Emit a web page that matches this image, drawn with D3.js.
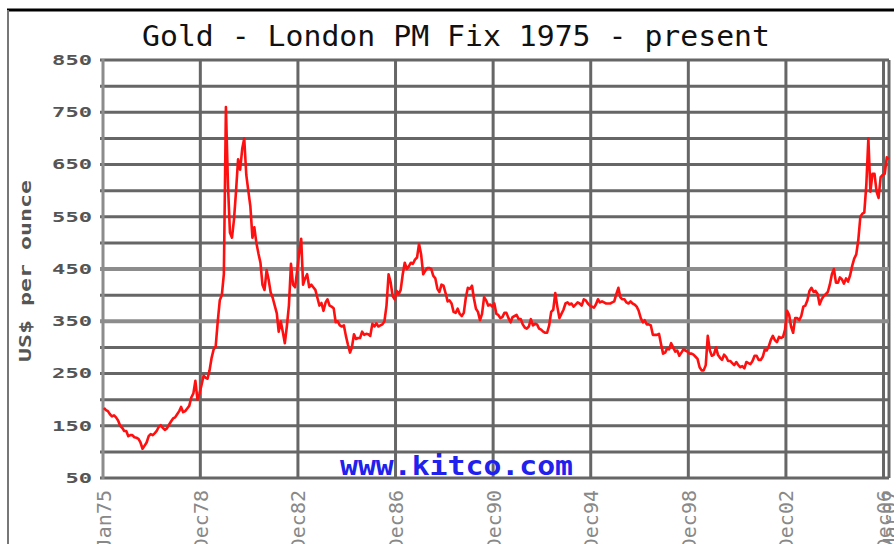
<!DOCTYPE html>
<html>
<head>
<meta charset="utf-8">
<title>Gold - London PM Fix</title>
<script src="https://cdn.jsdelivr.net/npm/d3@7"></script>
<style>
    body { margin: 0; background: #fff; }
    #chart { width: 894px; height: 544px; }
</style>
</head>
<body>
<div id="chart"></div>
<script>

// monthly PM fix, US$ per ounce (Jan 1975 onwards)
const prices1970s = [
    184, 180, 178, 172, 168, 170, 166, 160, 150, 146, 140, 140,   // 1975
    130, 132, 132, 128, 127, 125, 118, 106, 112, 118, 130, 134,   // 1976
    132, 136, 140, 148, 151, 146, 142, 145, 152, 158, 164, 166,   // 1977
    172, 178, 186, 176, 178, 183, 188, 204, 212, 236, 200, 212,   // 1978
    228, 246, 242, 240, 256, 280, 296, 302, 350, 390, 400, 440    // 1979
];
const prices1980s = [
    760, 610, 520, 510, 545, 600, 660, 640, 680, 700, 630, 600,   // 1980
    570, 510, 530, 500, 480, 462, 420, 410, 448, 430, 405, 395,   // 1981
    380, 365, 330, 350, 330, 308, 340, 380, 460, 420, 415, 445,   // 1982
    480, 508, 420, 432, 440, 415, 420, 415, 410, 395, 380, 385,   // 1983
    370, 386, 392, 380, 378, 375, 348, 350, 342, 340, 342, 322,   // 1984
    305, 290, 300, 325, 316, 318, 318, 330, 324, 326, 325, 322,   // 1985
    345, 340, 346, 340, 342, 344, 350, 380, 440, 425, 398, 392,   // 1986
    408, 402, 410, 440, 462, 450, 455, 462, 460, 468, 472, 498,   // 1987
    478, 440, 446, 452, 452, 450, 437, 432, 412, 406, 420, 418,   // 1988
    404, 388, 390, 384, 368, 366, 374, 364, 360, 366, 396, 414    // 1989
];
const prices1990s = [
    412, 418, 394, 374, 368, 352, 364, 396, 390, 380, 382, 378,   // 1990
    384, 364, 362, 356, 358, 366, 366, 356, 348, 358, 360, 362,   // 1991
    354, 354, 344, 338, 336, 340, 354, 342, 345, 344, 336, 334,   // 1992
    330, 328, 328, 342, 368, 372, 404, 378, 356, 364, 372, 384,   // 1993
    386, 382, 384, 378, 382, 386, 384, 380, 392, 390, 384, 380,   // 1994
    378, 376, 382, 392, 386, 388, 386, 384, 384, 384, 386, 388,   // 1995
    402, 414, 396, 392, 392, 386, 384, 388, 384, 382, 378, 370,   // 1996
    356, 348, 352, 344, 344, 342, 324, 324, 324, 326, 306, 288,   // 1997
    290, 298, 296, 308, 300, 292, 294, 284, 290, 296, 294, 292,   // 1998
    288, 288, 286, 282, 278, 262, 256, 256, 266, 322, 294, 284    // 1999
];
const prices2000s = [
    286, 300, 286, 280, 276, 286, 282, 274, 274, 270, 266, 272,   // 2000
    266, 262, 264, 260, 272, 270, 268, 274, 284, 284, 276, 276,   // 2001
    282, 296, 294, 302, 314, 322, 314, 310, 320, 318, 320, 334,   // 2002
    370, 362, 340, 328, 356, 356, 352, 360, 378, 380, 390, 408,   // 2003
    414, 406, 408, 402, 382, 392, 398, 402, 406, 420, 440, 450,   // 2004
    424, 424, 434, 430, 422, 432, 426, 438, 456, 470, 478, 505,   // 2005
    550, 556, 558, 612, 700, 598, 632, 632, 598, 586, 626, 630,   // 2006
    632, 664, 660                                                   // 2007
];

// axis ticks
const yTickValues = [50, 150, 250, 350, 450, 550, 650, 750, 850];
const xTickLabels = ["Jan75", "Dec78", "Dec82", "Dec86", "Dec90", "Dec94", "Dec98", "Dec02", "Dec06", "Mar07"];
const xTickDates = ["1975-01-01", "1978-12-28", "1982-12-28", "1986-12-28", "1990-12-28",
                    "1994-12-28", "1998-12-28", "2002-12-28", "2006-12-28", "2007-03-20"];

class GoldChart {

    constructor(parentElement) {
        this.parentElement = parentElement;
        this.displayData = [];
    }

    initVis() {
        let vis = this;

        vis.margin = {top: 60, right: 5, bottom: 66, left: 103};
        vis.width = 894 - vis.margin.left - vis.margin.right;
        vis.height = 544 - vis.margin.top - vis.margin.bottom;

        vis.svg = d3.select("#" + vis.parentElement).append("svg")
            .attr("width", 894)
            .attr("height", 544);

        // page frame (top black rule, left grey rule)
        vis.svg.append("line")
            .attr("x1", 7).attr("x2", 894).attr("y1", 10).attr("y2", 10)
            .attr("stroke", "#000").attr("stroke-width", 3);
        vis.svg.append("line")
            .attr("x1", 8).attr("x2", 8).attr("y1", 10).attr("y2", 544)
            .attr("stroke", "#777").attr("stroke-width", 2);

        // title
        vis.svg.append("text")
            .attr("x", 142)
            .attr("y", 46)
            .attr("font-family", "DejaVu Sans Mono")
            .attr("font-size", 29)
            .attr("fill", "#111")
            .attr("textLength", 628)
            .attr("lengthAdjust", "spacingAndGlyphs")
            .text("Gold - London PM Fix 1975 - present");

        // y axis title
        vis.svg.append("text")
            .attr("transform", "translate(31,271) rotate(-90)")
            .attr("text-anchor", "middle")
            .attr("font-family", "DejaVu Sans Mono")
            .attr("font-weight", "bold")
            .attr("font-size", 15)
            .attr("fill", "#555")
            .attr("textLength", 182)
            .attr("lengthAdjust", "spacingAndGlyphs")
            .text("US$ per ounce");

        vis.g = vis.svg.append("g")
            .attr("transform", "translate(" + vis.margin.left + "," + vis.margin.top + ")");

        // Scales
        vis.x = d3.scaleTime()
            .domain([new Date(1975, 0, 1), new Date(2007, 2, 20)])
            .range([0, vis.width]);

        vis.y = d3.scaleLinear()
            .domain([50, 850])
            .range([vis.height, 0]);

        vis.tickDates = xTickDates.map(d => d3.timeParse("%Y-%m-%d")(d));

        // vertical grid
        vis.g.append("g").attr("class", "x-grid")
            .selectAll("line")
            .data(vis.tickDates.slice(1))
            .enter().append("line")
            .attr("x1", d => vis.x(d)).attr("x2", d => vis.x(d))
            .attr("y1", 0).attr("y2", vis.height)
            .attr("stroke", "#666")
            .attr("stroke-width", 3);

        // horizontal grid, every $50 (350 and 450 are drawn lighter)
        vis.g.append("g").attr("class", "y-grid")
            .selectAll("line")
            .data(d3.range(50, 851, 50))
            .enter().append("line")
            .attr("x1", -3).attr("x2", vis.width)
            .attr("y1", d => vis.y(d)).attr("y2", d => vis.y(d))
            .attr("stroke", d => (d === 350 || d === 450) ? "#8c8c8c" : "#666")
            .attr("stroke-width", d => (d === 350 || d === 450) ? 4 : 3);

        // left axis rule
        vis.g.append("line")
            .attr("x1", 0).attr("x2", 0).attr("y1", -1).attr("y2", vis.height + 1)
            .attr("stroke", "#8c8c8c")
            .attr("stroke-width", 3);

        // Axes
        vis.yAxis = d3.axisLeft(vis.y)
            .tickValues(yTickValues)
            .tickSize(0)
            .tickPadding(11)
            .tickFormat(d => d);

        vis.xAxis = d3.axisBottom(vis.x)
            .tickValues(vis.tickDates)
            .tickSize(0)
            .tickFormat((d, i) => xTickLabels[i]);

        vis.g.append("g").attr("class", "y-axis axis");
        vis.g.append("g").attr("class", "x-axis axis")
            .attr("transform", "translate(0," + vis.height + ")");

        // watermark
        vis.g.append("text")
            .attr("x", 340 - vis.margin.left)
            .attr("y", 475 - vis.margin.top)
            .attr("font-family", "DejaVu Sans Mono")
            .attr("font-weight", "bold")
            .attr("font-size", 27)
            .attr("fill", "#2121ee")
            .attr("textLength", 233)
            .attr("lengthAdjust", "spacingAndGlyphs")
            .text("www.kitco.com");

        vis.line = d3.line()
            .x(d => vis.x(d.date))
            .y(d => vis.y(d.price));

        vis.path = vis.g.append("path")
            .attr("class", "price-line")
            .attr("fill", "none")
            .attr("stroke", "#ff1010")
            .attr("stroke-width", 2.6)
            .attr("stroke-linejoin", "round");

        vis.wrangleData();
    }

    wrangleData() {
        let vis = this;

        let prices = prices1970s.concat(prices1980s, prices1990s, prices2000s);

        // one point per month, placed mid-month
        vis.displayData = prices.map((p, i) => ({
            date: new Date(1975, i, 15),
            price: p
        }));

        vis.updateVis();
    }

    updateVis() {
        let vis = this;

        vis.path.datum(vis.displayData).attr("d", vis.line);

        let yAx = vis.g.select(".y-axis").call(vis.yAxis);
        yAx.select(".domain").remove();
        yAx.selectAll("text")
            .attr("font-family", "DejaVu Sans Mono")
            .attr("font-weight", "bold")
            .attr("font-size", 14)
            .attr("fill", "#555")
            .attr("textLength", d => String(d).length * 13.3)
            .attr("lengthAdjust", "spacingAndGlyphs");

        // labels run off the bottom edge, as in the original image
        let xAx = vis.g.select(".x-axis").call(vis.xAxis);
        xAx.select(".domain").remove();
        xAx.selectAll("text")
            .attr("transform", "rotate(-90)")
            .attr("text-anchor", "end")
            .attr("x", -12)
            .attr("y", 0)
            .attr("dy", "0.35em")
            .attr("font-family", "DejaVu Sans Mono")
            .attr("font-size", 20)
            .attr("fill", "#888");
    }
}

let goldChart = new GoldChart("chart");
goldChart.initVis();

</script>
</body>
</html>
